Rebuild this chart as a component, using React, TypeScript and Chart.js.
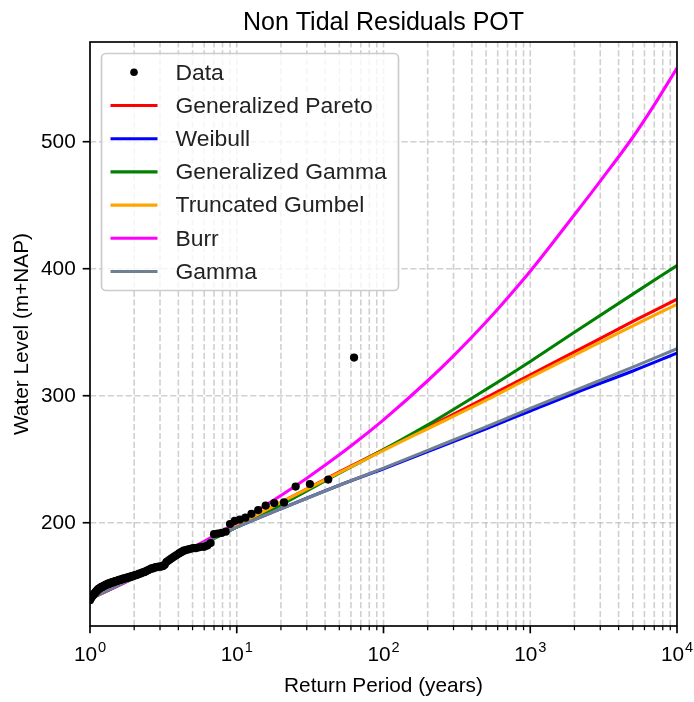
import React, { useEffect, useRef } from 'react';
import { Chart, registerables } from 'chart.js';

Chart.register(...registerables);

const TITLE = 'Non Tidal Residuals POT';
const X_LABEL = 'Return Period (years)';
const Y_LABEL = 'Water Level (m+NAP)';

// Observed peaks: return period (years) and water level
const dataReturnPeriod = [
  1, 1.008, 1.016, 1.024, 1.033, 1.041, 1.05, 1.059, 1.068, 1.077,
  1.086, 1.096, 1.105, 1.115, 1.125, 1.135, 1.145, 1.156, 1.167, 1.178,
  1.189, 1.2, 1.212, 1.223, 1.235, 1.248, 1.26, 1.273, 1.286, 1.299,
  1.313, 1.326, 1.34, 1.355, 1.37, 1.385, 1.4, 1.416, 1.432, 1.448,
  1.465, 1.482, 1.5, 1.518, 1.537, 1.556, 1.575, 1.595, 1.615, 1.636,
  1.658, 1.68, 1.703, 1.726, 1.75, 1.775, 1.8, 1.826, 1.853, 1.881,
  1.909, 1.938, 1.969, 2, 2.032, 2.066, 2.1, 2.136, 2.172, 2.211,
  2.25, 2.291, 2.333, 2.377, 2.423, 2.471, 2.52, 2.571, 2.625, 2.681,
  2.739, 2.8, 2.864, 2.93, 3, 3.073, 3.15, 3.231, 3.316, 3.405,
  3.5, 3.6, 3.706, 3.818, 3.938, 4.065, 4.2, 4.345, 4.5, 4.667,
  4.846, 5.04, 5.25, 5.478, 5.727, 6, 6.3, 6.632, 7, 7.412,
  7.875, 8.4, 9, 9.692, 10.5, 11.455, 12.6, 14, 15.75, 18,
  21, 25.2, 31.5, 42, 63,
];
const dataWaterLevel = [
  139, 140, 141, 141.5, 142, 142.5, 143, 143.5, 144, 144.5,
  145, 145.5, 146, 146.5, 147, 147.5, 148, 148, 148.5, 149,
  149, 149.5, 149.5, 150, 150, 150.5, 150.5, 151, 151, 151.5,
  151.5, 152, 152, 152, 152.5, 152.5, 153, 153, 153, 153.5,
  153.5, 154, 154, 154, 154.5, 154.5, 155, 155, 155, 155.5,
  155.5, 156, 156, 156, 156.5, 156.5, 157, 157, 157, 157.5,
  157.5, 158, 158, 158.5, 158.5, 159, 159, 159.5, 160, 160,
  160.5, 161, 161, 161.5, 162, 162.5, 163, 163.5, 164, 164,
  164.5, 165, 165, 165.5, 165.5, 165.5, 166, 167, 169, 170,
  171, 172, 173, 174, 175, 176, 177, 178, 178.5, 179,
  179.5, 180, 180, 180.5, 181, 181, 182, 184, 191, 191.5,
  192, 193, 199, 201.5, 202.5, 204, 207, 210, 213.5, 215.5,
  216, 228.5, 230.5, 234, 330,
];

// Fitted distributions evaluated at these return periods
const fitReturnPeriod = [1, 2, 5, 10, 20, 50, 100, 200, 500, 1000, 2000, 5000, 10000];
const generalizedPareto = [140, 157, 180, 198, 216, 240, 257.5, 275, 298.5, 316.5, 334.5, 358.5, 376];
const weibull = [140, 157, 179.5, 196.5, 211, 229.5, 242.5, 256, 274, 288, 302, 319.5, 333.5];
const generalizedGamma = [140, 156.5, 179, 196.5, 214, 239, 257.5, 277, 305, 327, 350, 380, 402.5];
const truncatedGumbel = [140, 157, 180, 198, 216, 239.5, 257, 274, 296.5, 314.5, 332, 355, 372];
const gamma = [140, 157, 179.5, 196.5, 211, 229.5, 243, 257, 275.5, 290, 304, 322.5, 337];

const burrReturnPeriod = [
  1, 2, 3, 5, 7, 10, 20, 30, 50, 70, 100, 200, 300, 500, 700, 1000, 2000, 3000, 5000, 7000, 10000,
];
const burr = [
  140, 156.7, 167, 180.4, 189.7, 200, 221.5, 235.1, 253.5, 266.5, 281, 311.8, 331.4, 358.1, 377,
  398, 442.5, 469, 503.5, 529, 558,
];

const xMajorTicks = [1, 10, 100, 1000, 10000];
const xTickBase = '10';
const xTickExponents = ['0', '1', '2', '3', '4'];
const xMinorMultipliers = [2, 3, 4, 5, 6, 7, 8, 9];
const yTicks = [200, 300, 400, 500];
const yTickLabels = ['200', '300', '400', '500'];

const X_MIN = 1;
const X_MAX = 10000;
const Y_MIN = 118.7;
const Y_MAX = 578.5;

const FONT = '"Liberation Sans", Arial, Helvetica, sans-serif';
const GRID_COLOR = 'rgba(176,176,176,0.6)';
const TEXT_COLOR = '#000';

const pts = (xs: number[], ys: number[]) => xs.map((x, i) => ({ x, y: ys[i] }));

const overlay = {
  id: 'overlay',
  beforeDatasetsDraw(chart: any) {
    const { ctx, chartArea: a, scales } = chart;
    const xs = scales.x;
    const ys = scales.y;
    ctx.save();
    ctx.beginPath();
    ctx.rect(a.left, a.top, a.right - a.left, a.bottom - a.top);
    ctx.clip();
    ctx.strokeStyle = GRID_COLOR;
    ctx.lineWidth = 1.6;
    ctx.setLineDash([6.2, 2.7]);
    const gridX: number[] = [];
    xMajorTicks.forEach((m, i) => {
      gridX.push(m);
      if (i < xMajorTicks.length - 1) xMinorMultipliers.forEach((k) => gridX.push(m * k));
    });
    gridX.forEach((v) => {
      const px = xs.getPixelForValue(v);
      ctx.beginPath();
      ctx.moveTo(px, a.bottom);
      ctx.lineTo(px, a.top);
      ctx.stroke();
    });
    yTicks.forEach((v) => {
      const py = ys.getPixelForValue(v);
      ctx.beginPath();
      ctx.moveTo(a.left, py);
      ctx.lineTo(a.right, py);
      ctx.stroke();
    });
    ctx.restore();
  },
  afterDatasetsDraw(chart: any) {
    const { ctx, chartArea: a, scales } = chart;
    const xs = scales.x;
    const ys = scales.y;
    ctx.save();
    ctx.setLineDash([]);
    // frame
    ctx.strokeStyle = '#000';
    ctx.lineWidth = 1.67;
    ctx.strokeRect(a.left, a.top, a.right - a.left, a.bottom - a.top);

    // x ticks
    xMajorTicks.forEach((m, i) => {
      const px = xs.getPixelForValue(m);
      ctx.lineWidth = 1.67;
      ctx.beginPath();
      ctx.moveTo(px, a.bottom);
      ctx.lineTo(px, a.bottom + 7.3);
      ctx.stroke();
      if (i < xMajorTicks.length - 1) {
        xMinorMultipliers.forEach((k) => {
          const qx = xs.getPixelForValue(m * k);
          ctx.lineWidth = 1.25;
          ctx.beginPath();
          ctx.moveTo(qx, a.bottom);
          ctx.lineTo(qx, a.bottom + 4.2);
          ctx.stroke();
        });
      }
    });
    // x tick labels (10 with superscript exponent)
    ctx.fillStyle = TEXT_COLOR;
    ctx.textBaseline = 'alphabetic';
    ctx.textAlign = 'left';
    const baseFont = `20.8px ${FONT}`;
    const supFont = `14.6px ${FONT}`;
    xMajorTicks.forEach((m, i) => {
      const px = xs.getPixelForValue(m);
      ctx.font = baseFont;
      const wb = ctx.measureText(xTickBase).width;
      ctx.font = supFont;
      const we = ctx.measureText(xTickExponents[i]).width;
      const total = wb + we + 1;
      const x0 = px - total / 2;
      const base = a.bottom + 35;
      ctx.font = baseFont;
      ctx.fillText(xTickBase, x0, base);
      ctx.font = supFont;
      ctx.fillText(xTickExponents[i], x0 + wb + 1, base - 9.5);
    });

    // y ticks and labels
    ctx.lineWidth = 1.67;
    ctx.font = baseFont;
    ctx.textAlign = 'right';
    ctx.textBaseline = 'middle';
    yTicks.forEach((v, i) => {
      const py = ys.getPixelForValue(v);
      ctx.beginPath();
      ctx.moveTo(a.left, py);
      ctx.lineTo(a.left - 7.3, py);
      ctx.stroke();
      ctx.fillText(yTickLabels[i], a.left - 14.3, py + 1);
    });

    // axis titles
    ctx.textAlign = 'center';
    ctx.textBaseline = 'alphabetic';
    ctx.font = baseFont;
    ctx.fillText(X_LABEL, (a.left + a.right) / 2, 692);
    ctx.save();
    ctx.translate(28, (a.top + a.bottom) / 2);
    ctx.rotate(-Math.PI / 2);
    ctx.fillText(Y_LABEL, 0, 0);
    ctx.restore();

    // title
    ctx.font = `25px ${FONT}`;
    ctx.fillText(TITLE, (a.left + a.right) / 2, a.top - 12.5);

    // legend
    const lx = a.left + 11.5;
    const ly = a.top + 11.5;
    const lw = 297;
    const lh = 237;
    const r = 4.5;
    ctx.beginPath();
    ctx.moveTo(lx + r, ly);
    ctx.lineTo(lx + lw - r, ly);
    ctx.arcTo(lx + lw, ly, lx + lw, ly + r, r);
    ctx.lineTo(lx + lw, ly + lh - r);
    ctx.arcTo(lx + lw, ly + lh, lx + lw - r, ly + lh, r);
    ctx.lineTo(lx + r, ly + lh);
    ctx.arcTo(lx, ly + lh, lx, ly + lh - r, r);
    ctx.lineTo(lx, ly + r);
    ctx.arcTo(lx, ly, lx + r, ly, r);
    ctx.closePath();
    ctx.fillStyle = 'rgba(255,255,255,0.8)';
    ctx.fill();
    ctx.strokeStyle = '#cccccc';
    ctx.lineWidth = 1.7;
    ctx.stroke();

    ctx.font = `22.9px ${FONT}`;
    ctx.textAlign = 'left';
    ctx.textBaseline = 'middle';
    chart.data.datasets.forEach((ds: any, i: number) => {
      const cy = ly + 18.8 + i * 33.2;
      if (ds.showLine === false) {
        ctx.fillStyle = '#000';
        ctx.beginPath();
        ctx.arc(lx + 32.5, cy, 3.8, 0, Math.PI * 2);
        ctx.fill();
      } else {
        ctx.strokeStyle = ds.borderColor;
        ctx.lineWidth = 3.1;
        ctx.beginPath();
        ctx.moveTo(lx + 9, cy);
        ctx.lineTo(lx + 56, cy);
        ctx.stroke();
      }
      ctx.fillStyle = '#222';
      ctx.fillText(ds.label, lx + 74, cy + 1);
    });
    ctx.restore();
  },
};

function lineSet(label: string, xs: number[], ys: number[], color: string, order: number) {
  return {
    label,
    data: pts(xs, ys),
    borderColor: color,
    backgroundColor: color,
    borderWidth: 3.1,
    pointRadius: 0,
    cubicInterpolationMode: 'monotone',
    fill: false,
    clip: 0,
    order,
  };
}

export default function App() {
  const ref = useRef<HTMLCanvasElement>(null);
  useEffect(() => {
    if (!ref.current) return;
    const chart = new Chart(ref.current, {
      type: 'line',
      data: {
        datasets: [
          {
            label: 'Data',
            data: pts(dataReturnPeriod, dataWaterLevel),
            showLine: false,
            pointRadius: 4.1,
            pointBackgroundColor: '#000',
            pointBorderWidth: 0,
            borderColor: '#000',
            backgroundColor: '#000',
            clip: 0,
            order: 0,
          },
          lineSet('Generalized Pareto', fitReturnPeriod, generalizedPareto, '#ff0000', 6),
          lineSet('Weibull', fitReturnPeriod, weibull, '#0000ff', 5),
          lineSet('Generalized Gamma', fitReturnPeriod, generalizedGamma, '#008000', 4),
          lineSet('Truncated Gumbel', fitReturnPeriod, truncatedGumbel, '#ffa500', 3),
          lineSet('Burr', burrReturnPeriod, burr, '#ff00ff', 2),
          lineSet('Gamma', fitReturnPeriod, gamma, '#708090', 1),
        ] as any,
      },
      options: {
        animation: false,
        responsive: false,
        devicePixelRatio: 1,
        events: [],
        layout: { padding: { top: 42, right: 17, bottom: 0, left: 0 } },
        plugins: {
          legend: { display: false },
          title: { display: false },
          tooltip: { enabled: false },
        },
        scales: {
          x: {
            type: 'logarithmic',
            min: X_MIN,
            max: X_MAX,
            ticks: { display: false },
            grid: { display: false },
            border: { display: false },
            afterFit: (s: any) => {
              s.height = 76;
            },
          },
          y: {
            type: 'linear',
            min: Y_MIN,
            max: Y_MAX,
            ticks: { display: false },
            grid: { display: false },
            border: { display: false },
            afterFit: (s: any) => {
              s.width = 90;
            },
          },
        },
      } as any,
      plugins: [overlay],
    });
    return () => chart.destroy();
  }, []);
  return (
    <div style={{ position: 'fixed', left: 0, top: 0, width: 694, height: 702, background: '#fff' }}>
      <canvas ref={ref} width={694} height={702} style={{ display: 'block', width: 694, height: 702 }} />
    </div>
  );
}
